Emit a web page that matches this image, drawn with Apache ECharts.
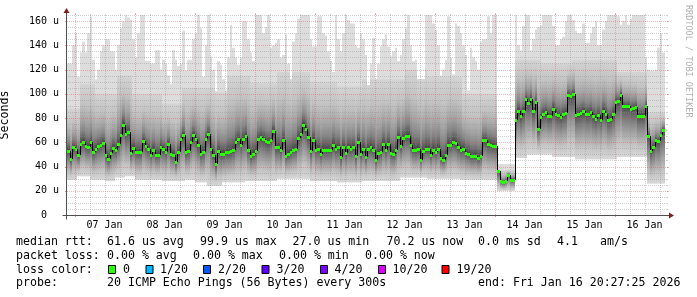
<!DOCTYPE html>
<html><head><meta charset="utf-8">
<script src="https://cdn.jsdelivr.net/npm/echarts@6/dist/echarts.min.js"></script>
<style>html,body{margin:0;padding:0;background:#fff}#c{width:697px;height:297px}</style>
</head><body><div id="c"></div>
<script>
// hour (since Jan 6 00:00) at which bin 0 starts; each bin is one hour
const startHour = 21;
const medianRtt = [
53.2,45.8,55.9,54.6,49.1,58.7,60.3,56.8,56.2,60.3,
52.1,54.8,56.8,58.1,59.5,49.4,46.6,51.3,55.4,53.5,
58.7,66.4,74.6,67.2,68.6,51.3,55.4,52.1,52.1,51.8,
60.9,56.8,54.6,49.9,54.0,49.9,49.9,55.9,54.6,51.8,
58.7,50.4,49.9,43.6,51.8,62.8,65.8,52.1,53.2,60.3,
65.8,62.8,57.6,50.7,52.1,62.3,66.9,54.8,49.9,41.7,
53.2,50.7,50.7,51.8,51.8,52.6,54.0,60.3,62.3,
58.1,62.8,65.0,54.0,48.5,50.7,53.1,62.8,64.4,62.8,
60.8,60.0,61.7,69.1,55.9,55.9,53.4,61.7,48.5,50.4,
52.0,54.0,54.5,63.6,66.9,74.6,71.3,64.4,52.6,62.2,
54.0,54.8,50.7,54.0,54.0,54.0,53.4,58.1,54.5,55.9,
47.6,55.9,51.2,55.9,54.8,56.2,48.5,60.3,50.4,
54.5,47.9,54.8,55.9,54.0,45.7,51.2,52.0,58.6,54.0,
58.6,51.2,50.4,54.0,64.1,57.3,63.6,65.5,65.5,58.1,
54.0,53.4,54.8,45.7,52.6,54.5,54.5,49.8,54.0,52.0,
54.8,47.1,45.7,49.8,58.1,58.1,60.3,59.5,55.9,54.0,
54.5,51.2,50.7,48.5,48.5,49.0,47.1,49.0,61.7,61.7,
58.6,58.1,57.3,56.7,36.1,28.4,27.0,28.4,33.3,
29.2,29.2,78.7,86.1,81.4,85.6,95.7,92.4,95.7,86.1,
93.0,71.3,80.9,83.6,84.7,82.0,82.0,87.8,83.6,82.3,
80.9,83.4,84.2,99.3,97.9,99.9,82.3,83.4,84.2,85.6,
83.6,83.6,85.0,81.4,79.5,82.3,78.7,86.1,83.6,78.7,
79.5,83.4,93.3,93.8,99.3,90.2,89.7,89.7,87.8,88.3,
89.1,82.0,82.0,82.0,89.7,65.5,52.6,56.2,61.7,60.8,
66.3,70.2
];
const smokeMax = [
125,125,140,150,114,134,143,134,150,164,
128,112,120,135,140,145,145,135,135,120,
140,154,160,165,163,161,145,130,150,165,
165,127,127,125,125,136,136,120,128,125,
115,108,136,128,123,125,152,119,128,128,
145,150,165,154,114,140,165,131,120,102,
127,124,112,103,130,157,138,130,124,
130,160,160,145,134,127,165,165,165,150,155,
165,138,140,142,145,130,132,149,125,112,
143,150,162,165,165,165,165,145,139,139,
164,164,150,148,135,127,118,165,145,135,
150,165,161,158,158,140,138,150,145,132,
107,125,146,112,125,139,145,149,139,131,
135,138,127,132,145,154,165,140,127,128,
112,112,112,165,165,165,158,153,140,115,
120,128,164,130,116,158,156,150,140,132,
103,138,130,127,120,143,145,145,164,150,
165,165,42,42,42,42,42,42,42,165,
140,136,156,165,165,136,145,153,155,156,
165,165,165,165,156,140,140,145,147,160,
165,165,161,152,150,150,158,142,142,150,
155,160,140,140,153,160,165,165,165,165,
164,157,160,165,157,162,165,165,165,165,
165,130,120,119,119,120,138,150,134
];
const smokeHi = [
88,88,88,88,88,
108,108,108,108,108,108,
100,100,100,100,100,100,100,100,100,
115,115,115,115,115,115,
100,100,100,100,100,100,100,100,100,100,100,100,
92,92,92,92,92,92,92,92,
105,105,105,105,105,105,105,105,105,105,105,105,105,
101,101,101,101,101,
115,115,115,115,115,115,115,115,115,
109,109,109,109,109,109,109,109,109,109,109,
118,118,118,118,118,118,118,118,118,118,118,118,118,
110,110,110,110,110,110,110,110,110,110,110,
106,106,106,106,106,106,106,106,106,106,
112,112,112,112,112,112,112,112,112,112,112,112,112,112,112,112,112,
120,120,120,120,120,120,120,120,120,
114,114,114,114,114,114,114,114,114,114,114,114,114,114,
100,100,100,100,100,100,100,100,100,100,100,100,100,100,
37,37,37,37,37,37,37,
128,128,128,128,128,128,128,128,128,128,
125,125,125,125,125,125,125,125,125,125,125,125,125,
128,128,128,128,128,128,128,128,128,128,128,128,128,128,128,128,128,128,
118,118,118,118,118,118,118,118,118,118,118,118,
85,85,85,85,85,85,85
];
const smokeMin = [
29,29,29,29,
32,32,32,32,32,
29,29,29,29,29,29,
28,28,28,28,
31,31,31,31,
32,32,32,32,
29,29,29,29,29,
29,29,29,29,29,29,
28,28,28,28,28,
28,28,28,28,
29,29,29,29,
27,27,27,27,27,
24,24,24,24,24,24,
27,27,27,27,27,27,27,27,27,
28,28,28,28,28,28,28,28,28,28,28,28,28,
30,30,30,30,30,30,30,30,30,30,30,30,30,
28,28,28,28,28,28,28,28,28,28,28,
27,27,27,27,27,27,27,27,27,27,
28,28,28,28,28,28,28,28,28,28,28,28,28,28,28,
31,31,31,31,31,31,31,31,31,31,31,
30,30,30,30,30,30,30,30,30,30,30,30,30,
29,29,29,29,29,29,29,29,29,29,29,29,29,29,29,
20,20,20,20,20,20,20,
47,47,47,47,47,
50,50,50,50,50,50,50,50,50,50,
48,48,48,48,48,48,48,48,48,
46,46,46,46,46,46,46,46,46,46,46,46,46,46,46,46,46,
48,48,48,48,48,48,48,48,48,48,48,48,
26,26,26,26,26,26,26
];
// axis ticks / grid positions
const dayLabels = ['07 Jan','08 Jan','09 Jan','10 Jan','11 Jan','12 Jan','13 Jan','14 Jan','15 Jan','16 Jan'];
const dayLabelHours = [36,60,84,108,132,156,180,204,228,252];
const majorVGrid = [24,48,72,96,120,144,168,192,216,240];
const minorVGrid = [30,36,42,54,60,66,78,84,90,102,108,114,126,132,138,150,156,162,174,180,186,198,204,210,222,228,234,246,252,258];
const yTickValues = [0,20,40,60,80,100,120,140,160];
const yTickLabels = ['0  ','20 u','40 u','60 u','80 u','100 u','120 u','140 u','160 u'];
const majorHGrid = [20,40,60,80,100,120,140,160];
const minorHGrid = [5,10,15,25,30,35,45,50,55,65,70,75,85,90,95,105,110,115,125,130,135,145,150,155,165];
const xMin = 21, xMax = 261, yMax = 165;

const lossColors = ['#26ff00','#00b8ff','#0059ff','#5e00ff','#7e00ff','#dd00ff','#ff0000'];
const lossLabels = ['0','1/20','2/20','3/20','4/20','10/20','19/20'];

const smokeData = medianRtt.map((m, k) => [startHour + k, smokeMin[k], smokeHi[k], m, smokeMax[k]]);
const medData = medianRtt.map((m, k) => [startHour + k, m, k > 0 ? medianRtt[k - 1] : m]);

const MONO = '"DejaVu Sans Mono"';
const majorColor = 'rgba(222,79,79,0.38)';
const minorColor = 'rgba(143,143,143,0.42)';

const upGrad = {type:'linear',x:0,y:0,x2:0,y2:1,colorStops:[
  {offset:0,color:'#d4d4d4'},{offset:0.35,color:'#c2c2c2'},{offset:0.62,color:'#a4a4a4'},
  {offset:0.8,color:'#858585'},{offset:0.92,color:'#626262'},{offset:1,color:'#444444'}]};
const downGrad = {type:'linear',x:0,y:0,x2:0,y2:1,colorStops:[
  {offset:0,color:'#444444'},{offset:0.1,color:'#606060'},{offset:0.28,color:'#808080'},
  {offset:0.5,color:'#a2a2a2'},{offset:0.75,color:'#c4c4c4'},{offset:1,color:'#d8d8d8'}]};

function smokeItem(params, api) {
  const t = api.value(0);
  const md = api.value(3);
  const mx = Math.max(api.value(4), md);
  const hi = Math.max(Math.min(api.value(2), mx), md);
  const mn = Math.min(api.value(1), md);
  const xa = Math.round(api.coord([t, 0])[0]);
  const xb = Math.round(api.coord([t + 1, 0])[0]);
  const w = xb - xa;
  const yMn = api.coord([t, mn])[1], yHi = api.coord([t, hi])[1];
  const yMd = api.coord([t, md])[1], yMx = api.coord([t, mx])[1];
  return {type:'group', children:[
    {type:'rect', shape:{x:xa, y:yMx, width:w, height:yMn - yMx}, style:{fill:'#dddddd'}},
    {type:'rect', shape:{x:xa, y:yHi, width:w, height:yMd - yHi}, style:{fill:upGrad}},
    {type:'rect', shape:{x:xa, y:yMd, width:w, height:yMn - yMd}, style:{fill:downGrad}}
  ]};
}
function medLineItem(params, api) {
  const t = api.value(0);
  const x = Math.round(api.coord([t, 0])[0]) + 0.5;
  const y = Math.round(api.coord([t, api.value(1)])[1]);
  const yp = Math.round(api.coord([t, api.value(2)])[1]);
  return {type:'line', shape:{x1:x, y1:yp, x2:x, y2:y}, style:{stroke:'#000', lineWidth:1}};
}
function medDotItem(params, api) {
  const t = api.value(0);
  const xa = Math.round(api.coord([t, 0])[0]);
  const xb = Math.round(api.coord([t + 1, 0])[0]);
  const y = Math.round(api.coord([t, api.value(1)])[1]);
  return {type:'rect', shape:{x:xa, y:y - 1, width:xb - xa, height:3}, style:{fill:lossColors[0]}};
}
function vGridItem(color, ext) {
  return function (params, api) {
    const h = api.value(0);
    const x = Math.round(api.coord([h, 0])[0]) + 0.5;
    const yb = Math.round(api.coord([h, 0])[1]);
    const yt = Math.round(api.coord([h, yMax])[1]);
    return {type:'group', children:[
      {type:'line', shape:{x1:x, y1:yb + ext, x2:x, y2:yt - ext}, style:{stroke:color, lineWidth:1, lineDash:[1,1]}},
      {type:'line', shape:{x1:x, y1:yb, x2:x, y2:yb + ext}, style:{stroke:color, lineWidth:1}},
      {type:'line', shape:{x1:x, y1:yt - ext, x2:x, y2:yt}, style:{stroke:color, lineWidth:1}}
    ]};
  };
}
function hGridItem(color, ext) {
  return function (params, api) {
    const v = api.value(0);
    const y = Math.round(api.coord([xMin, v])[1]) + 0.5;
    const xl = Math.round(api.coord([xMin, v])[0]);
    const xr = Math.round(api.coord([xMax, v])[0]);
    return {type:'group', children:[
      {type:'line', shape:{x1:xl - ext, y1:y, x2:xr + ext, y2:y}, style:{stroke:color, lineWidth:1, lineDash:[1,1]}},
      {type:'line', shape:{x1:xl - ext, y1:y, x2:xl, y2:y}, style:{stroke:color, lineWidth:1}},
      {type:'line', shape:{x1:xr, y1:y, x2:xr + ext, y2:y}, style:{stroke:color, lineWidth:1}}
    ]};
  };
}
function frameItem(params, api) {
  const o = api.coord([xMin, 0]);
  const tr = api.coord([xMax, yMax]);
  const x0 = Math.round(o[0]) - 0.5, y0 = Math.round(o[1]) + 0.5;
  const x1 = Math.round(tr[0]), y1 = Math.round(tr[1]);
  const axisC = '#505050', arrowC = 'rgb(128,31,31)';
  return {type:'group', children:[
    {type:'line', shape:{x1:x0 - 4, y1:y0, x2:x1 + 4, y2:y0}, style:{stroke:axisC, lineWidth:1}},
    {type:'line', shape:{x1:x0, y1:y0 + 4, x2:x0, y2:y1 - 4}, style:{stroke:axisC, lineWidth:1}},
    {type:'polygon', shape:{points:[[x1 + 2, y0 - 3], [x1 + 2, y0 + 3], [x1 + 7, y0]]}, style:{fill:arrowC}},
    {type:'polygon', shape:{points:[[x0 - 3, y1 - 2], [x0 + 3, y1 - 2], [x0, y1 - 7]]}, style:{fill:arrowC}}
  ]};
}

const chart = echarts.init(document.getElementById('c'), null, {renderer:'canvas'});
const lf = '11.6px ' + MONO;
function txt(x, y, s) { return {type:'text', x:x, y:y, style:{text:s, font:lf, fill:'#000', verticalAlign:'middle'}}; }
const graphics = [
  txt(16, 242, 'median rtt:'), txt(107, 242, '61.6 us avg'), txt(200, 242, '99.9 us max'),
  txt(292.5, 242, '27.0 us min'), txt(386.5, 242, '70.2 us now'), txt(478, 242, '0.0 ms sd'),
  txt(557, 242, '4.1'), txt(600, 242, 'am/s'),
  txt(16, 255.5, 'packet loss:'), txt(107, 255.5, '0.00 % avg'), txt(193, 255.5, '0.00 % max'),
  txt(279, 255.5, '0.00 % min'), txt(365, 255.5, '0.00 % now'),
  txt(16, 269.5, 'loss color:'),
  txt(16, 283, 'probe:'), txt(107, 283, '20 ICMP Echo Pings (56 Bytes) every 300s'),
  txt(478, 283, 'end: Fri Jan 16 20:27:25 2026'),
  {type:'text', x:688, y:5, rotation:-Math.PI/2, style:{text:'RRDTOOL / TOBI OETIKER', font:'8.5px ' + MONO, fill:'#b0b0b0', verticalAlign:'middle'}}
];
const boxX = [108, 145.5, 203, 261.5, 320, 378, 441.5];
const lblX = [123, 160, 218, 276.5, 334.5, 392.5, 456.5];
lossColors.forEach((c, i) => {
  graphics.push({type:'rect', shape:{x:boxX[i] + 0.5, y:265.5, width:7, height:8}, style:{fill:c, stroke:'#000', lineWidth:1}});
  graphics.push(txt(lblX[i], 269.5, lossLabels[i]));
});

chart.setOption({
  animation:false,
  backgroundColor:'#ffffff',
  grid:{left:67, right:30, top:15, bottom:82, containLabel:false, outerBoundsMode:'none'},
  xAxis:{type:'value', min:xMin, max:xMax, interval:3,
    axisLine:{show:false}, axisTick:{show:false}, splitLine:{show:false},
    axisLabel:{margin:5, color:'#000', fontFamily:'DejaVu Sans Mono', fontSize:10,
      formatter:(v) => { const i = dayLabelHours.indexOf(v); return i >= 0 ? dayLabels[i] : ''; }}},
  yAxis:{type:'value', min:0, max:yMax, interval:5,
    name:'Seconds', nameLocation:'middle', nameGap:56, nameRotate:90,
    nameTextStyle:{fontFamily:'DejaVu Sans Mono', fontSize:11.6, color:'#000'},
    axisLine:{show:false}, axisTick:{show:false}, splitLine:{show:false},
    axisLabel:{margin:8, color:'#000', fontFamily:'DejaVu Sans Mono', fontSize:10,
      formatter:(v) => { const i = yTickValues.indexOf(v); return i >= 0 ? yTickLabels[i] : ''; }}},
  graphic:graphics,
  series:[
    {type:'custom', name:'smoke', clip:true, z:1, silent:true, renderItem:smokeItem, data:smokeData},
    {type:'custom', name:'minorV', clip:false, z:2, silent:true, renderItem:vGridItem(minorColor, 1), data:minorVGrid.map(v => [v])},
    {type:'custom', name:'minorH', clip:false, z:2, silent:true, renderItem:hGridItem(minorColor, 1), data:minorHGrid.map(v => [v])},
    {type:'custom', name:'majorV', clip:false, z:3, silent:true, renderItem:vGridItem(majorColor, 2), data:majorVGrid.map(v => [v])},
    {type:'custom', name:'majorH', clip:false, z:3, silent:true, renderItem:hGridItem(majorColor, 2), data:majorHGrid.map(v => [v])},
    {type:'custom', name:'medianLine', clip:false, z:4, silent:true, renderItem:medLineItem, data:medData},
    {type:'custom', name:'median', clip:false, z:5, silent:true, renderItem:medDotItem, data:medData},
    {type:'custom', name:'frame', clip:false, z:6, silent:true, renderItem:frameItem, data:[[xMin, 0]]}
  ]
});
</script></body></html>
